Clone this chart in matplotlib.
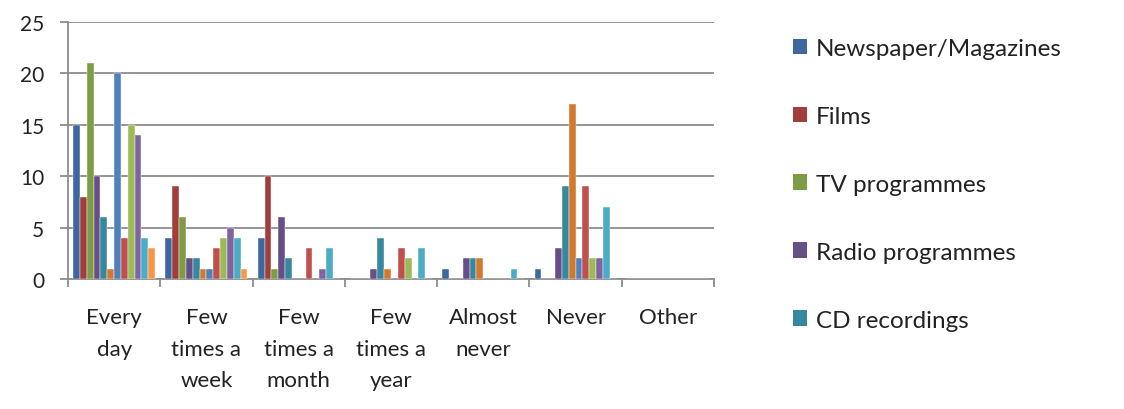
import numpy as np
import matplotlib.pyplot as plt
from matplotlib.patches import Patch

plt.rcParams['font.family'] = ['Lato', 'DejaVu Sans']

categories = ["Every\nday", "Few\ntimes a\nweek", "Few\ntimes a\nmonth",
              "Few\ntimes a\nyear", "Almost\nnever", "Never", "Other"]

# one list per media type, values per frequency category
s01 = [15, 4, 4, 0, 1, 1, 0]
s02 = [8, 9, 10, 0, 0, 0, 0]
s03 = [21, 6, 1, 0, 0, 0, 0]
s04 = [10, 2, 6, 1, 2, 3, 0]
s05 = [6, 2, 2, 4, 2, 9, 0]
s06 = [1, 1, 0, 1, 2, 17, 0]
s07 = [20, 1, 0, 0, 0, 2, 0]
s08 = [4, 3, 3, 3, 0, 9, 0]
s09 = [15, 4, 0, 2, 0, 2, 0]
s10 = [14, 5, 1, 0, 0, 2, 0]
s11 = [4, 4, 3, 3, 1, 7, 0]
s12 = [3, 1, 0, 0, 0, 0, 0]
series = [s01, s02, s03, s04, s05, s06, s07, s08, s09, s10, s11, s12]

legend_labels = ["Newspaper/Magazines", "Films", "TV programmes",
                 "Radio programmes", "CD recordings"]

colors = ['#3D679E', '#A13E3B', '#7E9B45', '#664E86', '#37889F', '#D3792D',
          '#4F81BD', '#C0504D', '#9BBB59', '#8064A2', '#4BACC6', '#F79646']

fig = plt.figure(figsize=(11.24, 4.10), dpi=100)
ax = fig.add_axes([68 / 1124, 1 - 280 / 410, 646 / 1124, 257 / 410])

n = len(series)
gap = 1.5
width = 1.0 / (n + gap)
x = np.arange(len(categories))
for i, vals in enumerate(series):
    offs = -0.5 + width * (gap / 2 + i + 0.5)
    ax.bar(x + offs, vals, width, color=colors[i], edgecolor='white',
           linewidth=0.3, zorder=3)

grid_c = '#8C8C8C'
ax.set_xlim(-0.5, len(categories) - 0.5)
ax.set_ylim(0, 25)
ax.set_yticks(range(0, 26, 5))
ax.yaxis.grid(True, color=grid_c, linewidth=1.3, zorder=0)
for s in ['top', 'right']:
    ax.spines[s].set_visible(False)
for s in ['left', 'bottom']:
    ax.spines[s].set_color(grid_c)
    ax.spines[s].set_linewidth(1.3)

ax.set_xticks(x)
ax.set_xticklabels(categories, linespacing=1.74, va='top')
ax.set_xticks(np.arange(len(categories) + 1) - 0.5, minor=True)
ax.tick_params(axis='x', which='major', length=0, pad=20, labelsize=16,
               labelcolor='#222222')
ax.tick_params(axis='x', which='minor', length=6, width=1.3, color=grid_c)
ax.tick_params(axis='y', length=6, width=1.3, color=grid_c, pad=11,
               labelsize=15, labelcolor='#222222')

handles = [Patch(facecolor=colors[i], edgecolor='none')
           for i in range(len(legend_labels))]
fig.legend(handles, legend_labels, loc='upper left',
           bbox_to_anchor=(771 / 1124, 1 - 17 / 410), frameon=False,
           fontsize=17.5, labelspacing=1.93, handlelength=0.6,
           handleheight=0.6, handletextpad=0.35, labelcolor='#222222')

fig.savefig('out.png', dpi=100)
